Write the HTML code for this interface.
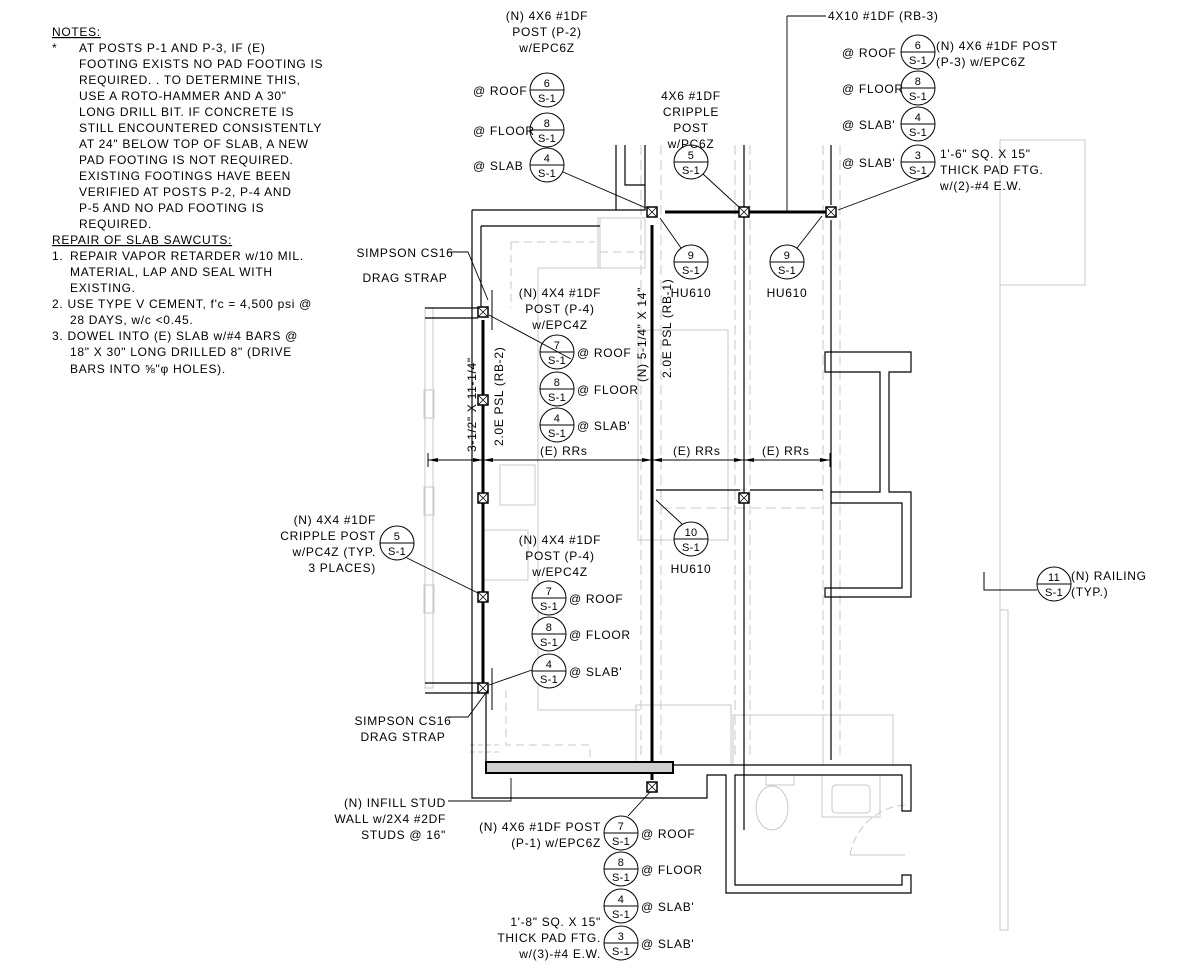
<!DOCTYPE html>
<html><head><meta charset="utf-8"><style>
html,body{margin:0;padding:0;background:#fff;}
svg{display:block;}
text{font-family:"Liberation Sans",sans-serif;font-size:12px;fill:#000;letter-spacing:0.7px;}
.s text,.s{font-size:11px;letter-spacing:0.3px;}
</style></head><body>
<svg width="1203" height="975" viewBox="0 0 1203 975" xmlns="http://www.w3.org/2000/svg">
<defs>
<g id="px"><rect x="-5" y="-5" width="10" height="10" fill="#fff" stroke="#000" stroke-width="1.5"/><path d="M-5 -5L5 5M5 -5L-5 5" stroke="#000" stroke-width="0.8"/></g>
</defs>
<!-- NOTES -->
<g>
<text x="52" y="36" text-decoration="underline">NOTES:</text>
<text x="52" y="52">*</text>
<text x="79" y="52">AT POSTS P-1 AND P-3, IF (E)</text>
<text x="79" y="68">FOOTING EXISTS NO PAD FOOTING IS</text>
<text x="79" y="84">REQUIRED. . TO DETERMINE THIS,</text>
<text x="79" y="100">USE A ROTO-HAMMER AND A 30"</text>
<text x="79" y="116">LONG DRILL BIT. IF CONCRETE IS</text>
<text x="79" y="132">STILL ENCOUNTERED CONSISTENTLY</text>
<text x="79" y="148">AT 24" BELOW TOP OF SLAB, A NEW</text>
<text x="79" y="164">PAD FOOTING IS NOT REQUIRED.</text>
<text x="79" y="180">EXISTING FOOTINGS HAVE BEEN</text>
<text x="79" y="196">VERIFIED AT POSTS P-2, P-4 AND</text>
<text x="79" y="212">P-5 AND NO PAD FOOTING IS</text>
<text x="79" y="228">REQUIRED.</text>
<text x="52" y="244" text-decoration="underline">REPAIR OF SLAB SAWCUTS:</text>
<text x="52" y="260">1.</text><text x="70" y="260">REPAIR VAPOR RETARDER w/10 MIL.</text>
<text x="70" y="276">MATERIAL, LAP AND SEAL WITH</text>
<text x="70" y="292">EXISTING.</text>
<text x="52" y="308">2. USE TYPE V CEMENT, f'c = 4,500 psi @</text>
<text x="70" y="324">28 DAYS, w/c &lt;0.45.</text>
<text x="52" y="340">3. DOWEL INTO (E) SLAB w/#4 BARS @</text>
<text x="70" y="356">18" X 30" LONG DRILLED 8" (DRIVE</text>
<text x="70" y="373">BARS INTO ⅝"φ HOLES).</text>
</g>

<!-- light gray background architecture -->
<g fill="none" stroke="#c8c8c8" stroke-width="1">
<rect x="425" y="308" width="8" height="380"/>
<rect x="424" y="390" width="10" height="28"/>
<rect x="424" y="487" width="10" height="28"/>
<rect x="424" y="585" width="10" height="28"/>
<rect x="598" y="218" width="47" height="50"/>
<path d="M511 242H595M511 242V308" stroke-dasharray="8,5"/>
<path d="M600 252H645" stroke-dasharray="8,5"/>
<path d="M538 268H600V218"/>
<path d="M538 268V710H640"/>
<rect x="500" y="465" width="35" height="40"/>
<rect x="483" y="530" width="45" height="50"/>
<rect x="638" y="330" width="90" height="210"/>
<rect x="636" y="705" width="95" height="60"/>
<rect x="733" y="715" width="90" height="50"/>
<rect x="823" y="715" width="70" height="50"/>
<path d="M1000 140V610H1008V930H1000V610" />
<path d="M1000 285H1085V140H1000"/>
<path d="M506 690V745H590V762" stroke-dasharray="8,5"/>
<path d="M470 745H500M470 752H500" stroke-dasharray="5,3"/>
<path d="M641 145V760M661 145V760M735 145V760M750 145V760M823 145V760M840 145V760" stroke-dasharray="10,5"/>
<path d="M661 490H823M661 508H823" stroke-dasharray="10,5"/>
<rect x="766" y="775" width="28" height="10"/>
<ellipse cx="772" cy="808" rx="16" ry="22"/>
<rect x="822" y="775" width="58" height="42"/>
<rect x="832" y="785" width="38" height="28" rx="4"/>
<path d="M850 855A60 60 0 0 1 905 805" stroke-dasharray="8,4"/>
<path d="M850 855H905"/>
</g>

<!-- black structure lines -->
<g fill="none" stroke="#000" stroke-width="1.2">
<path d="M472 210H645V145M481 226H600"/>
<path d="M472 210V798H673M481 226V308"/>
<path d="M625 145V185H645"/>
<path d="M616 145V210"/>
<path d="M744 145V830"/>
<path d="M831 145V205M831 220V760"/>
<path d="M425 308H478M425 318H478"/>
<path d="M425 683H478M425 693H478"/>
<path d="M486 690V762"/>
<path d="M656 490H740M750 490H823"/>
<path d="M825 352H911V372H889V492H911V597H825V588H902V503H831V492H880V372H825Z"/>
<path d="M673 765H911V811H902V775H735V885H902V875H911V893H726V775H707V798H673"/>
<path d="M673 773V765"/>
</g>
<!-- thick beams -->
<g stroke="#000" stroke-width="3" fill="none">
<path d="M483 320V683"/>
<path d="M652 225V780"/>
<path d="M665 212H826"/>
</g>
<rect x="486" y="762" width="187" height="11" fill="#cfcfcf" stroke="#000" stroke-width="2"/>
<!-- posts -->
<use href="#px" x="652" y="212"/><use href="#px" x="744" y="212"/><use href="#px" x="831" y="212"/>
<use href="#px" x="483" y="312"/><use href="#px" x="483" y="400"/><use href="#px" x="483" y="498"/><use href="#px" x="483" y="597"/><use href="#px" x="483" y="688"/>
<use href="#px" x="744" y="498"/><use href="#px" x="652" y="787"/>
<path d="M492 290V330M492 668V710" stroke="#000" stroke-width="1"/>

<!-- dimension line -->
<g stroke="#000" stroke-width="1" fill="none">
<path d="M428 460H830"/>
<path d="M428 453V467M483 453V467M652 453V467M744 453V467M830 453V467"/>
</g>
<g fill="#000">
<path d="M428 460l10-2v4zM483 460l-10-2v4zM483 460l10-2v4zM652 460l-10-2v4zM652 460l10-2v4zM744 460l-10-2v4zM744 460l10-2v4zM830 460l-10-2v4z"/>
</g>
<text x="540" y="455">(E) RRs</text>
<text x="673" y="455">(E) RRs</text>
<text x="762" y="455">(E) RRs</text>

<!-- rotated beam labels -->
<text transform="translate(476,452) rotate(-90)">3-1/2" X 11-1/4"</text>
<text transform="translate(503,446) rotate(-90)">2.0E PSL (RB-2)</text>
<text transform="translate(646,382) rotate(-90)">(N) 5-1/4" X 14"</text>
<text transform="translate(671,378) rotate(-90)">2.0E PSL (RB-1)</text>

<!-- bubbles -->
<g fill="#fff" stroke="#000" stroke-width="1">
<circle cx="547" cy="90" r="17"/><circle cx="547" cy="130" r="17"/><circle cx="547" cy="165" r="17"/>
<circle cx="691" cy="162" r="17"/>
<circle cx="918" cy="52" r="17"/><circle cx="918" cy="88" r="17"/><circle cx="918" cy="124" r="17"/><circle cx="918" cy="162" r="17"/>
<circle cx="691" cy="262" r="17"/><circle cx="787" cy="262" r="17"/>
<circle cx="557" cy="352" r="17"/><circle cx="557" cy="389" r="17"/><circle cx="557" cy="425" r="17"/>
<circle cx="397" cy="543" r="17"/>
<circle cx="549" cy="598" r="17"/><circle cx="549" cy="634" r="17"/><circle cx="549" cy="671" r="17"/>
<circle cx="691" cy="539" r="17"/>
<circle cx="621" cy="833" r="17"/><circle cx="621" cy="869" r="17"/><circle cx="621" cy="906" r="17"/><circle cx="621" cy="943" r="17"/>
<circle cx="1054" cy="584" r="17"/>
</g>
<g stroke="#000" stroke-width="1" fill="none">
<path d="M530 90h34M530 130h34M530 165h34M674 162h34M901 52h34M901 88h34M901 124h34M901 162h34M674 262h34M770 262h34M540 352h34M540 389h34M540 425h34M380 543h34M532 598h34M532 634h34M532 671h34M674 539h34M604 833h34M604 869h34M604 906h34M604 943h34"/>
<path d="M984 572V590H1037"/>
<path d="M1037 584h34"/>
</g>
<g text-anchor="middle" class="s">
<text x="547" y="87">6</text><text x="547" y="102">S-1</text>
<text x="547" y="127">8</text><text x="547" y="142">S-1</text>
<text x="547" y="162">4</text><text x="547" y="177">S-1</text>
<text x="691" y="159">5</text><text x="691" y="174">S-1</text>
<text x="918" y="49">6</text><text x="918" y="64">S-1</text>
<text x="918" y="85">8</text><text x="918" y="100">S-1</text>
<text x="918" y="121">4</text><text x="918" y="136">S-1</text>
<text x="918" y="159">3</text><text x="918" y="174">S-1</text>
<text x="691" y="259">9</text><text x="691" y="274">S-1</text>
<text x="787" y="259">9</text><text x="787" y="274">S-1</text>
<text x="557" y="349">7</text><text x="557" y="364">S-1</text>
<text x="557" y="386">8</text><text x="557" y="401">S-1</text>
<text x="557" y="422">4</text><text x="557" y="437">S-1</text>
<text x="397" y="540">5</text><text x="397" y="555">S-1</text>
<text x="549" y="595">7</text><text x="549" y="610">S-1</text>
<text x="549" y="631">8</text><text x="549" y="646">S-1</text>
<text x="549" y="668">4</text><text x="549" y="683">S-1</text>
<text x="691" y="536">10</text><text x="691" y="551">S-1</text>
<text x="621" y="830">7</text><text x="621" y="845">S-1</text>
<text x="621" y="866">8</text><text x="621" y="881">S-1</text>
<text x="621" y="903">4</text><text x="621" y="918">S-1</text>
<text x="621" y="940">3</text><text x="621" y="955">S-1</text>
<text x="1054" y="581">11</text><text x="1054" y="596">S-1</text>
</g>

<!-- leaders -->
<g stroke="#000" stroke-width="0.9" fill="none">
<path d="M563 172L646 208M703 174L740 208M929 176L838 210"/>
<path d="M681 248L660 218M797 248L822 216"/>
<path d="M787 16H826M787 16V212"/>
<path d="M571 359L489 315M532 670L489 685M407 558L478 593M682 524L656 500"/>
<path d="M448 252H468L488 300M448 717H468L488 690"/>
<path d="M448 801H511V778M628 816L650 792"/>
</g>

<!-- labels -->
<g text-anchor="middle">
<text x="547" y="20">(N) 4X6 #1DF</text><text x="547" y="36">POST (P-2)</text><text x="547" y="52">w/EPC6Z</text>
<text x="691" y="100">4X6 #1DF</text><text x="691" y="116">CRIPPLE</text><text x="691" y="132">POST</text><text x="691" y="148">w/PC6Z</text>
<text x="691" y="297">HU610</text><text x="787" y="297">HU610</text><text x="691" y="573">HU610</text>
<text x="560" y="297">(N) 4X4 #1DF</text><text x="560" y="313">POST (P-4)</text><text x="560" y="329">w/EPC4Z</text>
<text x="560" y="544">(N) 4X4 #1DF</text><text x="560" y="560">POST (P-4)</text><text x="560" y="576">w/EPC4Z</text>
<text x="405" y="257">SIMPSON CS16</text><text x="405" y="282">DRAG STRAP</text>
<text x="403" y="725">SIMPSON CS16</text><text x="403" y="741">DRAG STRAP</text>
</g>
<text x="828" y="20">4X10 #1DF (RB-3)</text>
<text x="473" y="95">@ ROOF</text><text x="473" y="135">@ FLOOR</text><text x="473" y="170">@ SLAB</text>
<text x="842" y="57">@ ROOF</text><text x="842" y="93">@ FLOOR</text><text x="842" y="129">@ SLAB'</text><text x="842" y="167">@ SLAB'</text>
<text x="936" y="50">(N) 4X6 #1DF POST</text><text x="936" y="66">(P-3) w/EPC6Z</text>
<text x="940" y="158">1'-6" SQ. X 15"</text><text x="940" y="174">THICK PAD FTG.</text><text x="940" y="190">w/(2)-#4 E.W.</text>
<text x="577" y="357">@ ROOF</text><text x="577" y="394">@ FLOOR</text><text x="577" y="430">@ SLAB'</text>
<text x="569" y="603">@ ROOF</text><text x="569" y="639">@ FLOOR</text><text x="569" y="676">@ SLAB'</text>
<text x="641" y="838">@ ROOF</text><text x="641" y="874">@ FLOOR</text><text x="641" y="911">@ SLAB'</text><text x="641" y="948">@ SLAB'</text>
<text x="1071" y="580">(N) RAILING</text><text x="1071" y="596">(TYP.)</text>
<g text-anchor="end">
<text x="376" y="524">(N) 4X4 #1DF</text><text x="376" y="540">CRIPPLE POST</text><text x="376" y="556">w/PC4Z (TYP.</text><text x="376" y="572">3 PLACES)</text>
<text x="446" y="807">(N) INFILL STUD</text><text x="446" y="823">WALL w/2X4 #2DF</text><text x="446" y="839">STUDS @ 16"</text>
<text x="601" y="831">(N) 4X6 #1DF POST</text><text x="601" y="847">(P-1) w/EPC6Z</text>
<text x="601" y="926">1'-8" SQ. X 15"</text><text x="601" y="942">THICK PAD FTG.</text><text x="601" y="958">w/(3)-#4 E.W.</text>
</g>
</svg>
</body></html>
